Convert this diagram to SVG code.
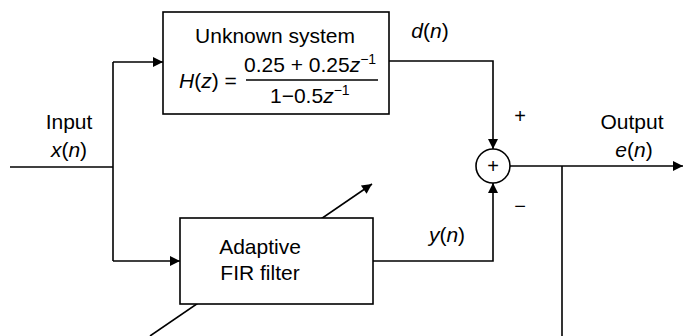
<svg xmlns="http://www.w3.org/2000/svg" width="683" height="336" viewBox="0 0 683 336">
<defs>
<marker id="ah" viewBox="0 0 10 10" refX="10" refY="5" markerWidth="12" markerHeight="10" markerUnits="userSpaceOnUse" orient="auto">
<path d="M0,0 L10,5 L0,10 z" fill="#000"/>
</marker>
<style>
.ln{fill:none;stroke:#000;stroke-width:1.6}
.bx{fill:#fff;stroke:#000;stroke-width:1.6}
text{font-family:"Liberation Sans",Arial,sans-serif;font-size:21px;fill:#000}
.i{font-style:italic}
.sup{font-size:14px}
.pm{font-size:20px}
</style>
</defs>
<rect width="683" height="336" fill="#fff"/>
<g id="connectors">
<line class="ln" x1="10" y1="167" x2="113" y2="167"/>
<polyline class="ln" points="113,62 113,261"/>
<polyline class="ln" points="113,62 163,62" marker-end="url(#ah)"/>
<polyline class="ln" points="113,261 180,261" marker-end="url(#ah)"/>
<polyline class="ln" points="389,61 493,61 493,149" marker-end="url(#ah)"/>
<polyline class="ln" points="373,261 493,261 493,183" marker-end="url(#ah)"/>
<polyline class="ln" points="510,166 683,166" marker-end="url(#ah)"/>
<polyline class="ln" points="562,166 562,336"/>
<line class="ln" x1="150" y1="336" x2="372" y2="184" marker-end="url(#ah)"/>
</g>
<g id="unknown">
<rect class="bx" x="163" y="12" width="226" height="102"/>
<text x="275" y="43" text-anchor="middle">Unknown system</text>
<text x="179" y="88"><tspan class="i">H</tspan>(<tspan class="i">z</tspan>) =</text>
<text x="244" y="72">0.25 + 0.25<tspan class="i">z</tspan><tspan class="sup" dy="-8">−1</tspan></text>
<line x1="246" y1="80" x2="378" y2="80" stroke="#000" stroke-width="1.3"/>
<text x="270" y="103">1−0.5<tspan class="i">z</tspan><tspan class="sup" dy="-8">−1</tspan></text>
</g>
<g id="adaptive">
<rect class="bx" x="180" y="218" width="193" height="86"/>
<text x="260" y="254" text-anchor="middle">Adaptive</text>
<text x="260" y="280" text-anchor="middle">FIR filter</text>
</g>
<g id="sum">
<circle cx="493" cy="166" r="17" fill="#fff" stroke="#000" stroke-width="1.6"/>
<text class="pm" x="493" y="173" text-anchor="middle">+</text>
</g>
<g id="labels">
<text x="69" y="129" text-anchor="middle">Input</text>
<text x="69" y="157" text-anchor="middle"><tspan class="i">x</tspan>(<tspan class="i">n</tspan>)</text>
<text x="430" y="38" text-anchor="middle"><tspan class="i">d</tspan>(<tspan class="i">n</tspan>)</text>
<text class="pm" x="520" y="123" text-anchor="middle">+</text>
<text class="pm" x="520" y="213" text-anchor="middle">−</text>
<text x="447" y="242" text-anchor="middle"><tspan class="i">y</tspan>(<tspan class="i">n</tspan>)</text>
<text x="632" y="129" text-anchor="middle">Output</text>
<text x="634" y="157" text-anchor="middle"><tspan class="i">e</tspan>(<tspan class="i">n</tspan>)</text>
</g>
</svg>
